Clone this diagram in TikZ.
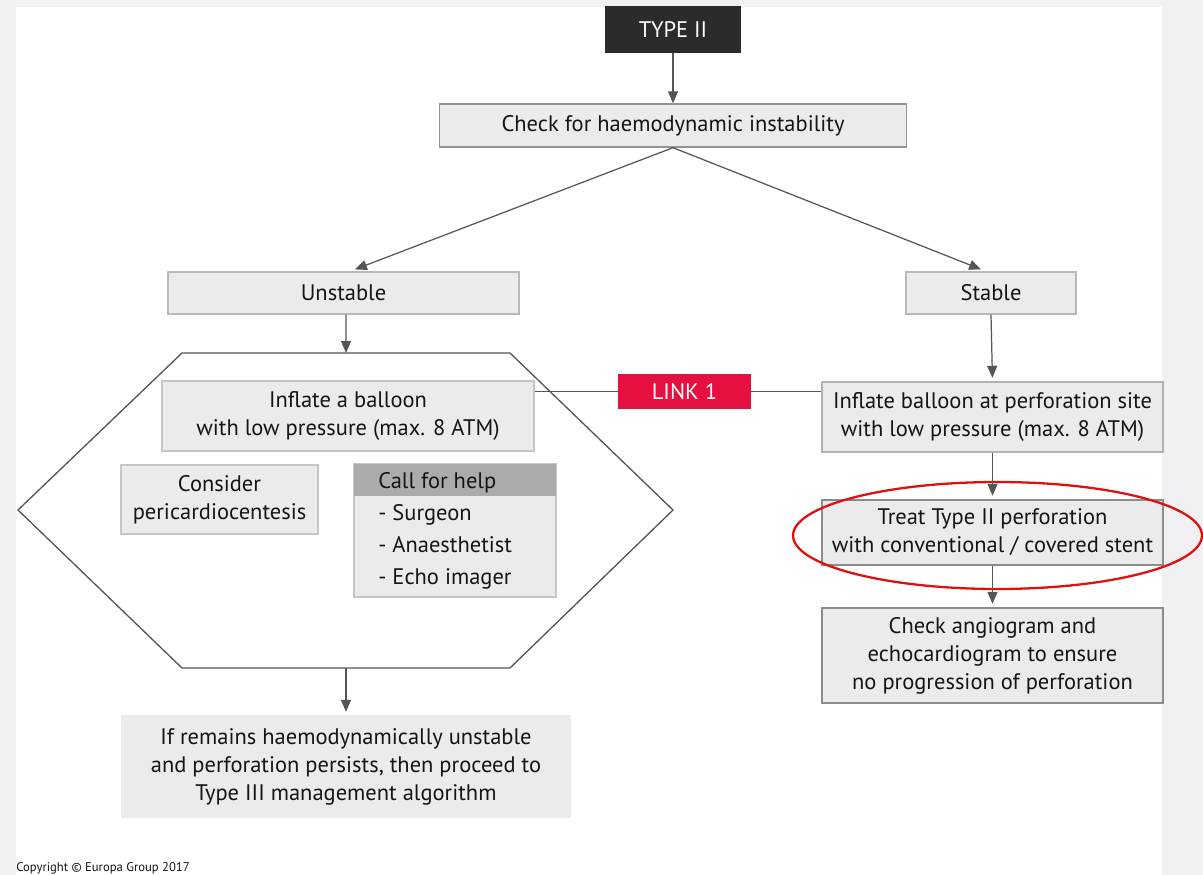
\documentclass[tikz,border=0pt]{standalone}
\usepackage{fontspec}
\setmainfont{PT Sans}
\usetikzlibrary{arrows.meta}
\definecolor{pagebg}{HTML}{F1F1F4}
\definecolor{boxfill}{HTML}{EBEBEB}
\definecolor{ink}{HTML}{151515}
\definecolor{wire}{HTML}{555555}
\definecolor{darkhead}{HTML}{2B2B2B}
\definecolor{helphead}{HTML}{ABABAB}
\definecolor{linkred}{HTML}{E5103F}
\definecolor{ringred}{HTML}{E01010}
\newcommand{\mainsz}{\fontsize{12.8}{15.9}\selectfont}
\begin{document}
\begin{tikzpicture}[x=0.02cm,y=-0.02cm,
  box/.style={draw=#1, fill=boxfill, line width=0.8pt, text=ink, font=\mainsz,
              align=center, inner sep=0pt},
  box/.default={wire},
  arr/.style={draw=wire, line width=0.7pt, -{Triangle[length=0.24cm,width=0.2cm]}},
  wireline/.style={draw=wire, line width=0.7pt},
  listtext/.style={text=ink, font=\mainsz, anchor=base west, inner sep=0pt}]

% page background and white panel
\fill[pagebg] (0,0) rectangle (1203,875);
\fill[white] (16,7) rectangle (1162,875);
\useasboundingbox (0,0) rectangle (1203,875);

% top of the tree
\node[box=darkhead, fill=darkhead, text=white, minimum width=2.7cm, minimum height=0.9cm]
  (type) at (673,29.5) {TYPE II};
\node[box=gray!85, minimum width=9.34cm, minimum height=0.86cm]
  (check) at (673,125.5) {Check for haemodynamic instability};
\node[box=gray!55, minimum width=7.02cm, minimum height=0.84cm]
  (unstable) at (343.5,293) {Unstable};
\node[box=gray!55, minimum width=3.4cm, minimum height=0.84cm]
  (stable) at (991,293) {Stable};

% unstable branch: hexagon holding the first measures
\draw[wire, line width=0.75pt] (182,353) -- (510,353) -- (673,510) -- (510,668)
  -- (182,668) -- (18,510) -- cycle;
\coordinate (hextop) at (346,353);
\coordinate (hexbot) at (346,668);

\node[box=gray!45, minimum width=7.44cm, minimum height=1.4cm]
  (inflL) at (348,416) {Inflate a balloon\\with low pressure (max. 8 ATM)};
\node[box=gray!45, minimum width=3.94cm, minimum height=1.38cm]
  (consider) at (219.5,499.5) {Consider\\pericardiocentesis};

% call for help panel
\node[box=gray!45, minimum width=4.04cm, minimum height=2.66cm]
  (help) at (455,530.5) {};
\fill[helphead] ([xshift=0.4pt,yshift=-0.4pt]help.north west) rectangle (555.6,496);
\node[listtext] (h0) at (378,488) {Call for help};
\node[listtext] (h1) at (378,520) {- Surgeon};
\node[listtext] (h2) at (378,552) {- Anaesthetist};
\node[listtext] (h3) at (378,584) {- Echo imager};

\node[box=boxfill, minimum width=8.96cm, minimum height=2.02cm]
  (final) at (346,766.5)
  {If remains haemodynamically unstable\\and perforation persists, then proceed to\\Type III management algorithm};

% stable branch
\node[fill=linkred, text=white, font=\mainsz, inner sep=0pt,
      minimum width=2.66cm, minimum height=0.7cm] (link) at (684.5,391.5) {LINK 1};
\node[box=gray!60, minimum width=6.82cm, minimum height=1.4cm]
  (inflR) at (992.5,417) {Inflate balloon at perforation site\\with low pressure (max. 8 ATM)};
\node[box=gray!90, minimum width=6.82cm, minimum height=1.3cm]
  (treat) at (992.5,532.5) {Treat Type II perforation\\with conventional / covered stent};
\node[box=gray!90, minimum width=6.82cm, minimum height=1.9cm]
  (angio) at (992.5,655.5) {Check angiogram and\\echocardiogram to ensure\\no progression of perforation};

% highlight ring
\draw[ringred, line width=1.3pt] (997.5,535.5) ellipse [x radius=4.09cm, y radius=1.07cm];

% connectors
\draw[arr] (type.south) -- (check.north);
\draw[arr, shorten >=3pt] (check.south) -- ([xshift=0.13cm]unstable.north);
\draw[arr, shorten >=3pt] (check.south) -- ([xshift=-0.1cm]stable.north);
\draw[arr] ([xshift=0.05cm]unstable.south) -- (hextop);
\draw[arr, shorten >=2pt] (hexbot) -- (final.north);
\draw[wireline] (inflL.east |- link.west) -- (link.west);
\draw[wireline] (link.east) -- (inflR.west |- link.east);
\draw[arr, shorten >=2pt] (stable.south) -- (inflR.north);
\draw[arr, shorten >=2pt] (inflR.south) -- (treat.north);
\draw[arr, shorten >=2pt] (treat.south) -- (angio.north);

% footer
\node[text=ink, font=\fontsize{7.2}{8}\selectfont, anchor=base west, inner sep=0pt]
  (copy) at (16,871) {Copyright © Europa Group 2017};
\end{tikzpicture}
\end{document}
